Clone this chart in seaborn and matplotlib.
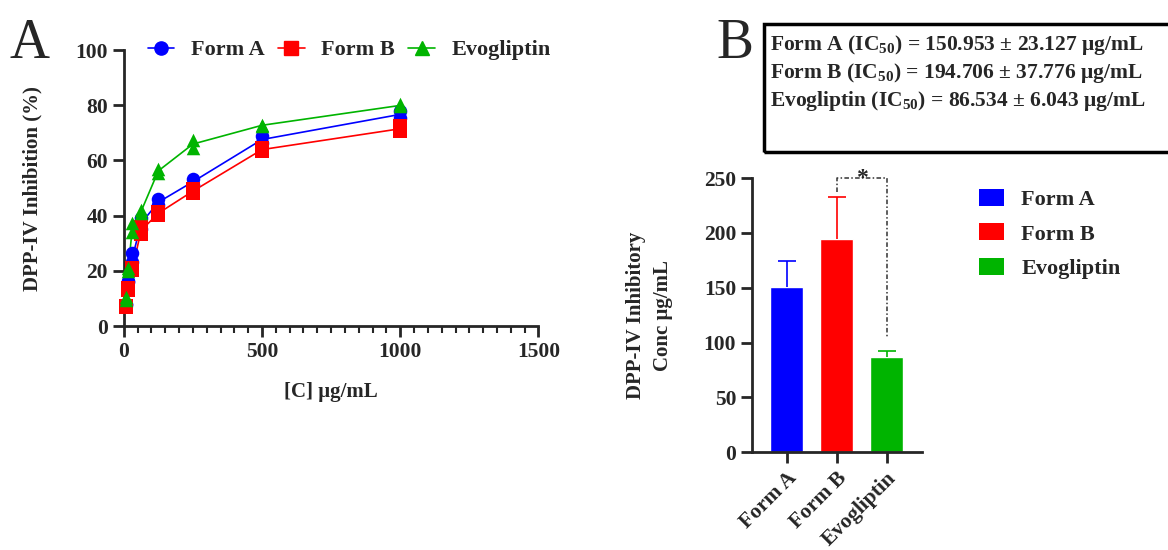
import matplotlib
matplotlib.use("Agg")
import matplotlib.pyplot as plt
from matplotlib.lines import Line2D
from matplotlib.patches import Patch, Rectangle
from matplotlib.ticker import MultipleLocator
import seaborn as sns
import pandas as pd

# === DATA ===
conc = [7.8, 15.6, 31.25, 62.5, 125, 250, 500, 1000]
form_a_rep1 = [8.2, 16.3, 26.4, 39.3, 46.1, 53.4, 68.8, 77.9]
form_a_rep2 = [7.8, 15.9, 23.3, 35.2, 43.7, 51.2, 66.4, 75.5]
form_b_rep1 = [7.2, 13.7, 21.0, 36.0, 41.5, 49.6, 64.6, 72.4]
form_b_rep2 = [7.0, 13.2, 20.5, 33.3, 40.3, 48.2, 63.3, 70.6]
evo_rep1 = [10.5, 21.0, 37.5, 42.1, 57.0, 67.3, 73.0, 80.3]
evo_rep2 = [9.5, 20.0, 34.2, 41.0, 55.5, 64.6, 72.5, 79.6]

groups = ["Form A", "Form B", "Evogliptin"]
colors = ["#0000FF", "#FF0000", "#00B400"]
markers = ["o", "s", "^"]

ic50_mean = [150.953, 194.706, 86.534]
ic50_sd = [23.127, 37.776, 6.043]

# === LONG TABLE FOR PANEL A ===
reps = {"Form A": [form_a_rep1, form_a_rep2],
        "Form B": [form_b_rep1, form_b_rep2],
        "Evogliptin": [evo_rep1, evo_rep2]}
rows = []
for g in groups:
    for rep in reps[g]:
        for c, v in zip(conc, rep):
            rows.append({"Group": g, "Conc": c, "Inhibition": v})
df_a = pd.DataFrame(rows)
df_b = pd.DataFrame({"Group": groups, "IC50": ic50_mean, "SD": ic50_sd})

# === STYLE ===
sns.set_style("ticks")
plt.rcParams["font.family"] = ["Liberation Serif", "DejaVu Serif"]
plt.rcParams["font.weight"] = "bold"
plt.rcParams["axes.labelweight"] = "bold"
plt.rcParams["mathtext.fontset"] = "custom"
plt.rcParams["mathtext.rm"] = "Liberation Serif"
plt.rcParams["mathtext.bf"] = "Liberation Serif:bold"
palette = dict(zip(groups, colors))

fig = plt.figure(figsize=(11.68, 5.5), dpi=100)

# === PANEL A ===
ax1 = fig.add_axes([0.106, 0.407, 0.355, 0.502])
sns.lineplot(data=df_a, x="Conc", y="Inhibition", hue="Group", palette=palette,
             errorbar=None, linewidth=1.2, legend=False, ax=ax1)
for g, m in zip(groups, markers):
    sub = df_a[df_a["Group"] == g]
    sns.scatterplot(data=sub, x="Conc", y="Inhibition", color=palette[g], marker=m,
                    s=95, edgecolor=palette[g], linewidth=0, ax=ax1, zorder=3,
                    clip_on=False)
ax1.set_xlim(0, 1500)
ax1.set_ylim(0, 100)
ax1.set_xticks([0, 500, 1000, 1500])
ax1.set_yticks([0, 20, 40, 60, 80, 100])
ax1.xaxis.set_minor_locator(MultipleLocator(50))
ax1.set_xlabel("[C] μg/mL", fontsize=15, labelpad=14)
ax1.set_ylabel("DPP-IV Inhibition (%)", fontsize=15, labelpad=24)
sns.despine(ax=ax1)
for sp in ["left", "bottom"]:
    ax1.spines[sp].set_linewidth(2)
ax1.tick_params(axis="both", which="major", labelsize=15.5, width=2, length=8)
ax1.tick_params(axis="x", which="minor", width=1.5, length=5)

handles = [Line2D([0], [0], color=c, marker=m, markersize=9.5, linewidth=1.2)
           for c, m in zip(colors, markers)]
fig.legend(handles, groups, loc="center left", bbox_to_anchor=(0.113, 0.909),
           ncol=3, frameon=False, fontsize=16, handlelength=1.2,
           handletextpad=0.75, columnspacing=0.6, borderpad=0.2)

# === PANEL B ===
ax2 = fig.add_axes([0.644, 0.178, 0.145, 0.498])
sns.barplot(data=df_b, x="Group", y="IC50", hue="Group", palette=palette,
            width=0.66, errorbar=None, legend=False, ax=ax2, saturation=1)
# upper-only error bars
for i, (m, s, c) in enumerate(zip(ic50_mean, ic50_sd, colors)):
    ax2.vlines(i, m, m + s, color=c, linewidth=1.2)
    ax2.hlines(m + s, i - 0.18, i + 0.18, color=c, linewidth=1.2)
ax2.set_xlim(-0.69, 2.70)
ax2.set_ylim(0, 250)
ax2.set_yticks([0, 50, 100, 150, 200, 250])
ax2.set_xlabel("")
ax2.set_ylabel("DPP-IV Inhibitory\nConc μg/mL", fontsize=15, labelpad=22,
               linespacing=1.5)
sns.despine(ax=ax2)
for sp in ["left", "bottom"]:
    ax2.spines[sp].set_linewidth(2)
ax2.tick_params(axis="both", labelsize=15.5, width=2, length=8)
plt.setp(ax2.get_xticklabels(), rotation=45, ha="right", rotation_mode="anchor")

# significance bracket between Form B and Evogliptin
ax2.plot([1, 1, 2, 2], [237, 250, 250, 104], color="#333333", linewidth=1.1,
         linestyle=(0, (3, 1.5, 1, 1.5)), clip_on=False)
ax2.text(1.5, 250, "*", ha="center", va="center", fontsize=17, fontweight="bold")

leg_handles = [Patch(facecolor=c, edgecolor="none") for c in colors]
fig.legend(leg_handles, groups, loc="upper left", bbox_to_anchor=(0.821, 0.693),
           frameon=False, fontsize=16, handlelength=1.15, handleheight=0.8,
           handletextpad=0.75, labelspacing=0.6)

# === IC50 BOX ===
fig.patches.append(Rectangle((0.654, 0.724), 0.36, 0.232, transform=fig.transFigure,
                             fill=False, edgecolor="black", linewidth=2.5))
box_lines = [
    "Form A (IC$_{\\mathbf{50}}$) = 150.953 ± 23.127 μg/mL",
    "Form B (IC$_{\\mathbf{50}}$) = 194.706 ± 37.776 μg/mL",
    "Evogliptin (IC$_{\\mathbf{50}}$) = 86.534 ± 6.043 μg/mL",
]
for k, t in enumerate(box_lines):
    fig.text(0.659, 0.918 - k * 0.051, t, fontsize=15.5, fontweight="bold",
             ha="left", va="center")

# panel letters
fig.text(0.008, 0.92, "A", fontsize=40, fontweight="normal", ha="left", va="center")
fig.text(0.613, 0.92, "B", fontsize=40, fontweight="normal", ha="left", va="center")

fig.savefig("out.png", dpi=100)
